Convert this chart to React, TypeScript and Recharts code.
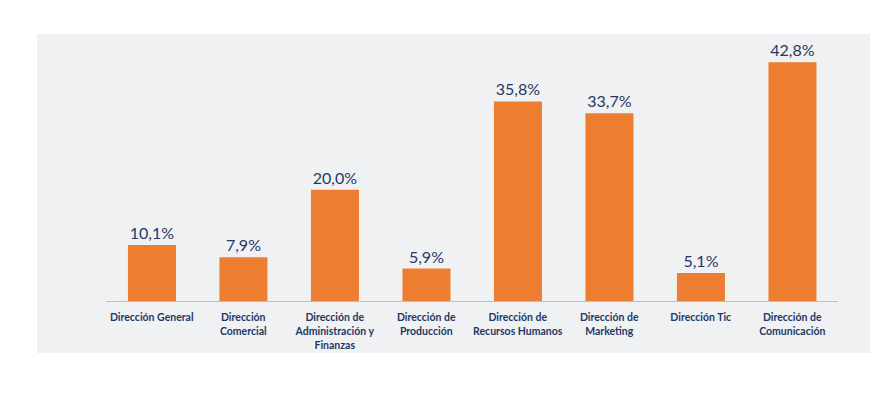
import React from 'react';
import { BarChart, Bar, XAxis, YAxis, LabelList } from 'recharts';

const categories = [
  'Dirección General',
  'Dirección Comercial',
  'Dirección de Administración y Finanzas',
  'Dirección de Producción',
  'Dirección de Recursos Humanos',
  'Dirección de Marketing',
  'Dirección Tic',
  'Dirección de Comunicación',
];
const values = [10.1, 7.9, 20.0, 5.9, 35.8, 33.7, 5.1, 42.8];

const data = categories.map((name, i) => ({ name, value: values[i] }));

const NAVY = '#1F3864';
const FONT = 'Lato, "Open Sans", sans-serif';

// greedy word wrap, roughly like the original tick layout
const wrap = (text: string, max = 17) => {
  const lines: string[] = [];
  let cur = '';
  text.split(' ').forEach(w => {
    const next = cur ? cur + ' ' + w : w;
    if (next.length > max && cur) {
      lines.push(cur);
      cur = w;
    } else {
      cur = next;
    }
  });
  if (cur) lines.push(cur);
  return lines;
};

const CategoryTick = (props: any) => {
  const { x, y, payload } = props;
  const lines = wrap(payload.value);
  return (
    <text x={x} y={y} textAnchor="middle" fill={NAVY} fontFamily={FONT} fontSize={10.5} fontWeight={700}>
      {lines.map((l, i) => (
        <tspan key={i} x={x} dy={i === 0 ? 11.5 : 13.8}>{l}</tspan>
      ))}
    </text>
  );
};

const fmt = (v: any) => Number(v).toFixed(1).replace('.', ',') + '%';

export default function App() {
  return (
    <div style={{ position: 'absolute', left: 0, top: 0, width: 895, height: 394, background: '#fff' }}>
      <div style={{ position: 'absolute', left: 37, top: 34, width: 833, height: 319, background: '#F0F1F3' }} />
      <div style={{ position: 'absolute', left: 0, top: 0 }}>
        <BarChart
          width={895}
          height={394}
          data={data}
          margin={{ top: 50, right: 57, left: 106, bottom: 32.5 }}
          barCategoryGap="24%"
        >
          <XAxis
            dataKey="name"
            height={60}
            interval={0}
            tickLine={false}
            axisLine={{ stroke: '#BFBFBF', strokeWidth: 1 }}
            tick={<CategoryTick />}
          />
          <YAxis hide domain={[0, 45]} />
          <Bar dataKey="value" fill="#ED7D31" isAnimationActive={false}>
            <LabelList
              dataKey="value"
              position="top"
              offset={6}
              formatter={fmt}
              fill={NAVY}
              fontFamily={FONT}
              fontSize={16}
            />
          </Bar>
        </BarChart>
      </div>
    </div>
  );
}
